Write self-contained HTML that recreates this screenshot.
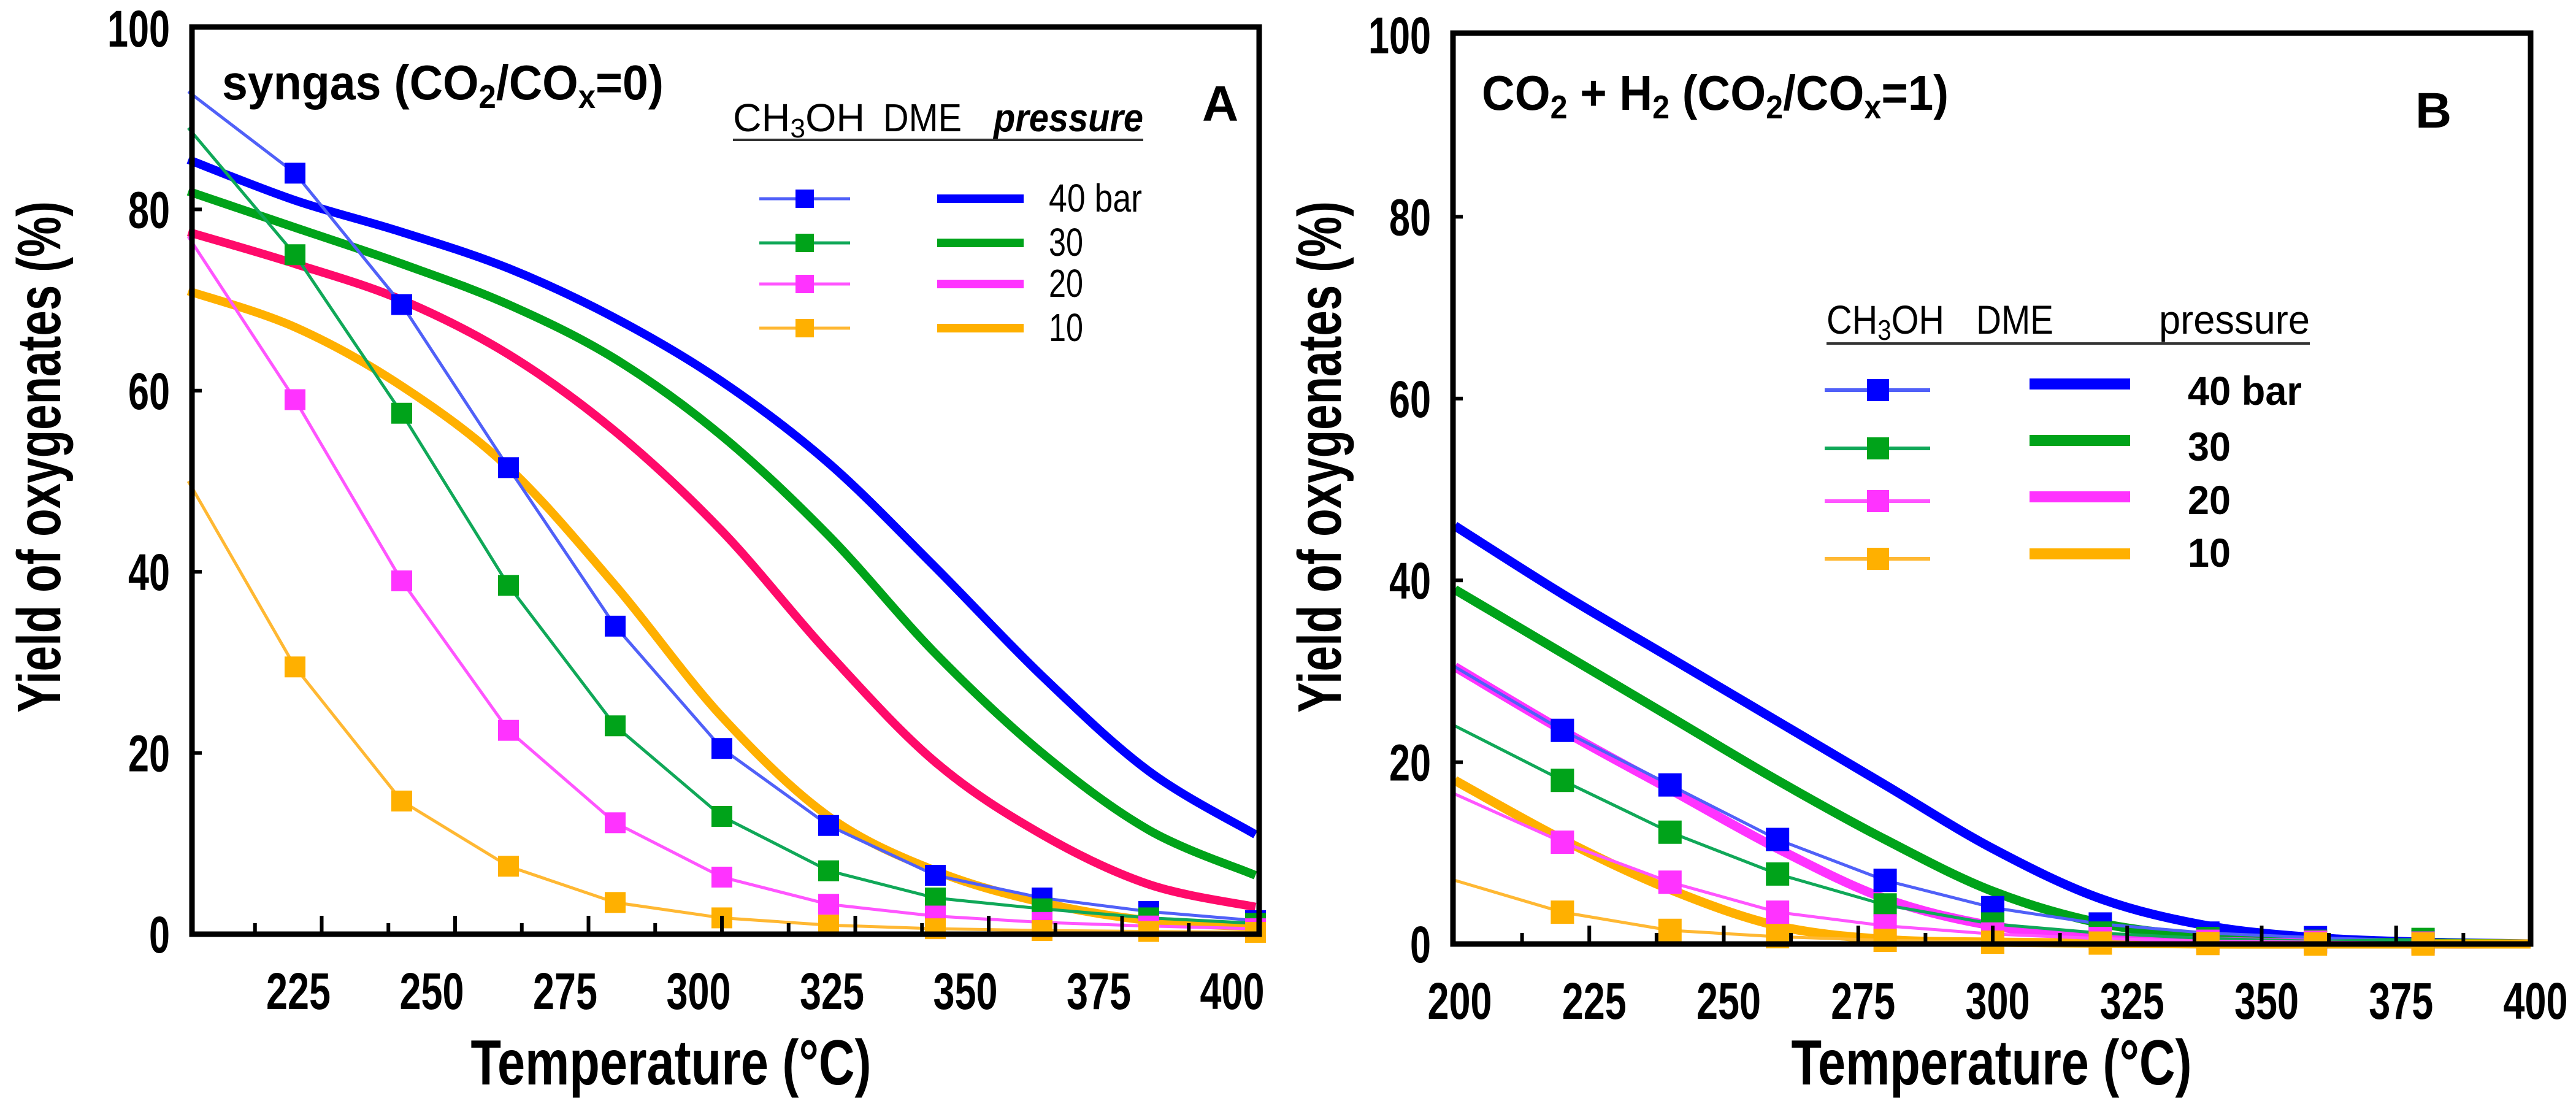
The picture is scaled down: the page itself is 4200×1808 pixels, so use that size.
<!DOCTYPE html>
<html><head><meta charset="utf-8"><style>
html,body{margin:0;padding:0;background:#fff;}
svg{display:block;}
text{font-family:"Liberation Sans",sans-serif;}
</style></head><body>
<svg id="chart" width="4200" height="1808" viewBox="0 0 4200 1808" xmlns="http://www.w3.org/2000/svg">
<rect width="4200" height="1808" fill="#fff"/>
<g id="panelA"></g>
<g id="panelB"></g>
</svg>
<script>
// ---- data ----
const tempsA = [200,220,240,260,280,300,320,340,360,380,400];
const methanolA40 = [93,84,69.5,51.5,34,20.5,12,6.5,4,2.5,1.5];
const methanolA30 = [89,75,57.5,38.5,23,13,7,4,2.8,1.8,1.2];
const methanolA20 = [77,59,39,22.5,12.3,6.3,3.3,2,1.3,0.9,0.6];
const methanolA10 = [50,29.5,14.7,7.5,3.5,1.8,1,0.6,0.4,0.3,0.2];
const dmeA40 = [85.5,81,77.5,73.5,68,61,52,40.5,28.5,18,11];
const dmeA30 = [82,78,74,69.5,63.5,55,44,31,20,11.5,6.5];
const dmeA20 = [77.5,74,70,64,55.5,44.5,31,19,11,5.5,3];
const dmeA10 = [71,67,60.5,51.5,38.5,24,13,7,3.5,1.5,0.8];

const tempsB = [200,220,240,260,280,300,320,340,360,380];
const methanolB40 = [30.5,23.5,17.5,11.5,7,4,2.2,1.2,0.7,0.3];
const methanolB30 = [24,18,12.3,7.7,4.3,2.2,1.2,0.6,0.3,0.5];
const methanolB20 = [16.5,11.2,6.8,3.5,2,1.1,0.6,0.3,0.2,0.1];
const methanolB10 = [7,3.5,1.5,0.8,0.4,0.2,0.1,0.05,0,0];
const tempsBDme = [200,220,240,260,280,300,320,340,360,380,400];
const dmeB40 = [46,38.5,31.5,24.5,17.5,10.5,5,2,0.7,0.2,0];
const dmeB30 = [39,32,25,18,11.5,5.8,2.3,0.8,0.3,0.1,0];
const dmeB20 = [30.5,23.5,17,10.5,5,2,0.8,0.3,0.1,0,0];
const dmeB10 = [18,11.5,6,2,0.5,0.2,0.1,0,0,0,0];

const xTickLabelsA = [225,250,275,300,325,350,375,400];
const xTickLabelsB = [200,225,250,275,300,325,350,375,400];
const yTickLabels = [0,20,40,60,80,100];
const pressureLabels = ["40 bar","30","20","10"];

const NS="http://www.w3.org/2000/svg";
function mk(parent,tag,attrs,txt){const e=document.createElementNS(NS,tag);for(const k in attrs)e.setAttribute(k,attrs[k]);if(txt!==undefined)e.textContent=txt;parent.appendChild(e);return e;}
function smooth(pts){let d="M"+pts[0][0]+","+pts[0][1];for(let i=0;i<pts.length-1;i++){const p0=pts[Math.max(i-1,0)],p1=pts[i],p2=pts[i+1],p3=pts[Math.min(i+2,pts.length-1)];const c1=[p1[0]+(p2[0]-p0[0])/6,p1[1]+(p2[1]-p0[1])/6];const c2=[p2[0]-(p3[0]-p1[0])/6,p2[1]-(p3[1]-p1[1])/6];d+=" C"+c1[0]+","+c1[1]+" "+c2[0]+","+c2[1]+" "+p2[0]+","+p2[1];}return d;}

const colDme=["#0000ff","#00a31a","#ff0a6a","#ffb000"];
const colDmeLeg=["#0000ff","#00a31a","#ff33ff","#ffb000"];
const colMeo=["#5060f8","#10a858","#ff55ff","#ffb833"];
const colMk=["#0000ff","#00a31a","#ff33ff","#ffb000"];

function panel(g,cfg){
  const sx=v=>cfg.x0+(v-200)*(cfg.x1-cfg.x0)/200;
  const sy=v=>cfg.y0-v*(cfg.y0-cfg.y100)/100;
  cfg.dme.forEach((arr,i)=>{
    const pts=cfg.dmeT.map((t,j)=>[sx(t),sy(arr[j])]);
    const p=mk(g,"path",{d:smooth(pts),fill:"none",stroke:cfg.dmeCols[i],"stroke-width":cfg.dmeW,"stroke-linejoin":"round"});
    
    
  });
  cfg.meo.forEach((arr,i)=>{
    const pts=cfg.meoT.map((t,j)=>[sx(t),sy(arr[j])]);
    const l=mk(g,"polyline",{points:pts.map(p=>p.join(",")).join(" "),fill:"none",stroke:colMeo[i],"stroke-width":5});
    
    
    pts.forEach((p,j)=>{ if(j===0)return;
      const r=mk(g,"rect",{x:p[0]-cfg.ms/2,y:p[1]-cfg.ms/2,width:cfg.ms,height:cfg.ms,fill:colMk[i]});
      
      
    });
  });
  const f=mk(g,"rect",{x:cfg.fl,y:cfg.ft,width:cfg.fr-cfg.fl,height:cfg.fb-cfg.ft,fill:"none",stroke:"#000","stroke-width":9});
  
  
  for(let t=212.5;t<400;t+=12.5){const X=sx(t);const major=(t%25===0);mk(g,"line",{x1:X,x2:X,y1:cfg.fb,y2:cfg.fb-(major?30:18),stroke:"#000","stroke-width":6});}
  cfg.xLabels.forEach(v=>{const s=String(v);const tx=mk(g,"text",{x:sx(v)+cfg.xlOff,y:cfg.fb+122,"font-size":84,"font-weight":"bold","text-anchor":"middle",textLength:s.length*35,lengthAdjust:"spacingAndGlyphs"},s);
    });
  yTickLabels.forEach(v=>{const s=String(v);const tx=mk(g,"text",{x:cfg.fl-36,y:sy(v)+30,"font-size":84,"font-weight":"bold","text-anchor":"end",textLength:s.length*34,lengthAdjust:"spacingAndGlyphs"},s);
    
    if(v>0&&v<100)mk(g,"line",{x1:cfg.fl,x2:cfg.fl+16,y1:sy(v),y2:sy(v),stroke:"#000","stroke-width":6});});
  const xt=mk(g,"text",{x:cfg.xtX,y:1768,"font-size":104,"font-weight":"bold","text-anchor":"middle",textLength:653,lengthAdjust:"spacingAndGlyphs"},"Temperature (°C)");
  
  const yt=mk(g,"text",{x:0,y:0,"font-size":100,"font-weight":"bold","text-anchor":"middle",textLength:834,lengthAdjust:"spacingAndGlyphs",transform:`translate(${cfg.ytX},745) rotate(-90)`},"Yield of oxygenates (%)");
  
}

const gA=document.getElementById("panelA"), gB=document.getElementById("panelB");
panel(gA,{x0:307,x1:2047,y0:1523,y100:46,fl:313,fr:2053,ft:44,fb:1523,dme:[dmeA40,dmeA30,dmeA20,dmeA10],dmeT:tempsA,meo:[methanolA40,methanolA30,methanolA20,methanolA10],meoT:tempsA,dmeCols:colDme,dmeW:14,ms:34,xLabels:xTickLabelsA,xlOff:-38,xtX:1094,ytX:98});
panel(gB,{x0:2372,x1:4126,y0:1539,y100:57,fl:2369,fr:4126,ft:54,fb:1539,dme:[dmeB40,dmeB30,dmeB20,dmeB10],dmeT:tempsBDme,meo:[methanolB40,methanolB30,methanolB20,methanolB10],meoT:tempsB,dmeCols:colDmeLeg,dmeW:15,ms:38,xLabels:xTickLabelsB,xlOff:8,xtX:3247,ytX:2186});
</script>
<svg style="position:absolute;left:0;top:0" width="4200" height="1808" xmlns="http://www.w3.org/2000/svg">
<g font-family="Liberation Sans, sans-serif" font-weight="bold">
<text x="362" y="162" font-size="80" textLength="720" lengthAdjust="spacingAndGlyphs">syngas (CO<tspan font-size="54" dy="14">2</tspan><tspan dy="-14">/CO</tspan><tspan font-size="54" dy="14">x</tspan><tspan dy="-14">=0)</tspan></text>
<text x="2416" y="179" font-size="80" textLength="761" lengthAdjust="spacingAndGlyphs">CO<tspan font-size="54" dy="14">2</tspan><tspan dy="-14"> + H</tspan><tspan font-size="54" dy="14">2</tspan><tspan dy="-14"> (CO</tspan><tspan font-size="54" dy="14">2</tspan><tspan dy="-14">/CO</tspan><tspan font-size="54" dy="14">x</tspan><tspan dy="-14">=1)</tspan></text>
</g>
<text x="1960" y="197" font-size="82" font-weight="bold" font-family="Liberation Serif, serif">A</text>
<text x="3938" y="208" font-size="82" font-weight="bold" font-family="Liberation Serif, serif">B</text>
<g font-family="Liberation Sans, sans-serif" font-size="64">
<text x="1195" y="214" textLength="215" lengthAdjust="spacingAndGlyphs">CH<tspan font-size="44" dy="10">3</tspan><tspan dy="-10">OH</tspan></text>
<text x="1440" y="214" textLength="128" lengthAdjust="spacingAndGlyphs">DME</text>
<text x="1620" y="214" font-style="italic" font-weight="bold" textLength="244" lengthAdjust="spacingAndGlyphs">pressure</text>
<line x1="1195" x2="1864" y1="228" y2="228" stroke="#333" stroke-width="4"/>
<g><line x1="1238" x2="1386" y1="324" y2="324" stroke="#5060f8" stroke-width="5"/><rect x="1297" y="309" width="30" height="30" fill="#0000ff"/><line x1="1528" x2="1669" y1="324" y2="324" stroke="#0000ff" stroke-width="14"/><text x="1710" y="345" textLength="152" lengthAdjust="spacingAndGlyphs">40 bar</text></g>
<g><line x1="1238" x2="1386" y1="396" y2="396" stroke="#10a858" stroke-width="5"/><rect x="1297" y="381" width="30" height="30" fill="#00a31a"/><line x1="1528" x2="1669" y1="396" y2="396" stroke="#00a31a" stroke-width="14"/><text x="1710" y="417" textLength="56" lengthAdjust="spacingAndGlyphs">30</text></g>
<g><line x1="1238" x2="1386" y1="463" y2="463" stroke="#ff55ff" stroke-width="5"/><rect x="1297" y="448" width="30" height="30" fill="#ff33ff"/><line x1="1528" x2="1669" y1="463" y2="463" stroke="#ff33ff" stroke-width="14"/><text x="1710" y="484" textLength="56" lengthAdjust="spacingAndGlyphs">20</text></g>
<g><line x1="1238" x2="1386" y1="535" y2="535" stroke="#ffb833" stroke-width="5"/><rect x="1297" y="520" width="30" height="30" fill="#ffb000"/><line x1="1528" x2="1669" y1="535" y2="535" stroke="#ffb000" stroke-width="14"/><text x="1710" y="556" textLength="56" lengthAdjust="spacingAndGlyphs">10</text></g>
</g>
<g font-family="Liberation Sans, sans-serif" font-size="66">
<text x="2978" y="544" textLength="192" lengthAdjust="spacingAndGlyphs">CH<tspan font-size="46" dy="10">3</tspan><tspan dy="-10">OH</tspan></text>
<text x="3222" y="544" textLength="126" lengthAdjust="spacingAndGlyphs">DME</text>
<text x="3520" y="544" textLength="246" lengthAdjust="spacingAndGlyphs">pressure</text>
<line x1="2978" x2="3766" y1="560" y2="560" stroke="#333" stroke-width="4"/>
<g><line x1="2975" x2="3147" y1="636" y2="636" stroke="#5060f8" stroke-width="6"/><rect x="3044" y="618" width="36" height="36" fill="#0000ff"/><line x1="3309" x2="3473" y1="626" y2="626" stroke="#0000ff" stroke-width="18"/><text x="3567" y="660" font-weight="bold" textLength="186" lengthAdjust="spacingAndGlyphs">40 bar</text></g>
<g><line x1="2975" x2="3147" y1="731" y2="731" stroke="#10a858" stroke-width="6"/><rect x="3044" y="713" width="36" height="36" fill="#00a31a"/><line x1="3309" x2="3473" y1="718" y2="718" stroke="#00a31a" stroke-width="18"/><text x="3567" y="751" font-weight="bold" textLength="70" lengthAdjust="spacingAndGlyphs">30</text></g>
<g><line x1="2975" x2="3147" y1="817" y2="817" stroke="#ff55ff" stroke-width="6"/><rect x="3044" y="799" width="36" height="36" fill="#ff33ff"/><line x1="3309" x2="3473" y1="810" y2="810" stroke="#ff33ff" stroke-width="18"/><text x="3567" y="838" font-weight="bold" textLength="70" lengthAdjust="spacingAndGlyphs">20</text></g>
<g><line x1="2975" x2="3147" y1="911" y2="911" stroke="#ffb833" stroke-width="6"/><rect x="3044" y="893" width="36" height="36" fill="#ffb000"/><line x1="3309" x2="3473" y1="903" y2="903" stroke="#ffb000" stroke-width="18"/><text x="3567" y="924" font-weight="bold" textLength="70" lengthAdjust="spacingAndGlyphs">10</text></g>
</g>
</svg>
</body></html>
